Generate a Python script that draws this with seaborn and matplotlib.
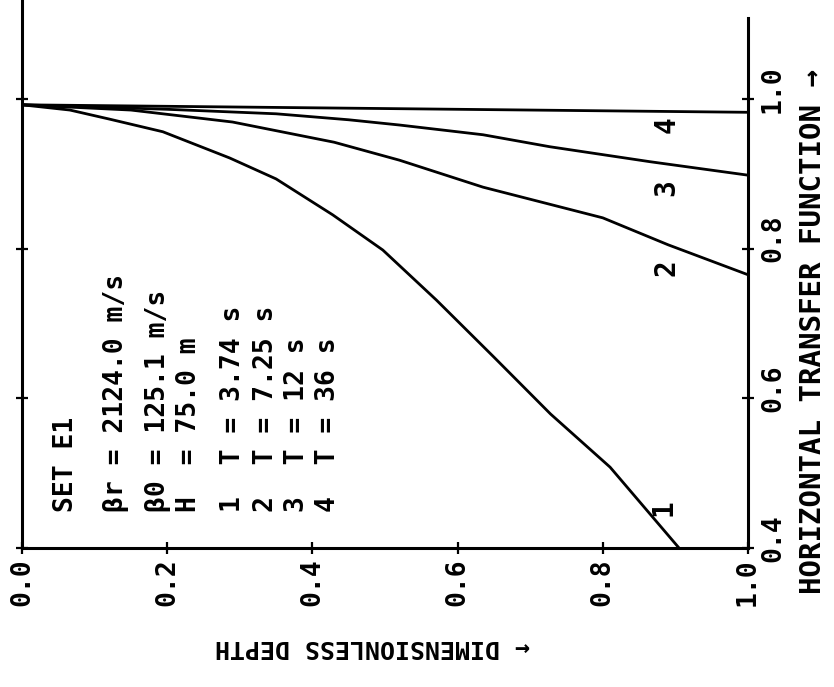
import matplotlib
matplotlib.use("Agg")
import matplotlib.pyplot as plt
import matplotlib.transforms as mtransforms
import numpy as np
import pandas as pd
import seaborn as sns

# Dimensionless depth (0 = surface) and horizontal transfer function per period
depth_1 = [0.0, 0.066, 0.12, 0.194, 0.286, 0.35, 0.428, 0.497, 0.571, 0.65, 0.728, 0.81, 0.905]
transfer_1 = [0.992, 0.985, 0.973, 0.956, 0.921, 0.893, 0.845, 0.798, 0.731, 0.655, 0.579, 0.508, 0.40]

depth_2 = [0.0, 0.15, 0.29, 0.43, 0.52, 0.635, 0.80, 0.89, 1.0]
transfer_2 = [0.992, 0.985, 0.969, 0.942, 0.918, 0.882, 0.841, 0.805, 0.765]

depth_3 = [0.0, 0.2, 0.35, 0.45, 0.52, 0.635, 0.727, 0.865, 1.0]
transfer_3 = [0.992, 0.986, 0.980, 0.972, 0.965, 0.952, 0.936, 0.916, 0.898]

depth_4 = [0.0, 0.5, 1.0]
transfer_4 = [0.992, 0.987, 0.982]

curve_ids = ["1", "2", "3", "4"]
depth_ticks = [0.0, 0.2, 0.4, 0.6, 0.8, 1.0]
transfer_ticks = [0.4, 0.6, 0.8, 1.0]

info_lines = [
    "SET E1",
    "\u03b2r = 2124.0 m/s",
    "\u03b20 = 125.1 m/s",
    "H  = 75.0 m",
    "1  T = 3.74 s",
    "2  T = 7.25 s",
    "3  T = 12 s",
    "4  T = 36 s",
]

frames = []
for cid, d, t in zip(curve_ids, [depth_1, depth_2, depth_3, depth_4],
                     [transfer_1, transfer_2, transfer_3, transfer_4]):
    frames.append(pd.DataFrame({"depth": d, "transfer": t, "curve": cid}))
data = pd.concat(frames, ignore_index=True)

sns.set_theme(style="white")
plt.rcParams["font.family"] = ["DejaVu Sans Mono", "DejaVu Sans"]
TEXT_KW = dict(color="black", fontweight="bold")

W, H = 834, 687
fig = plt.figure(figsize=(W / 100, H / 100), dpi=100)
ax = fig.add_axes([22 / W, (H - 548) / H, 726 / W, 548 / H])

sns.lineplot(data=data, x="depth", y="transfer", units="curve", estimator=None,
             sort=False, color="black", linewidth=2.0, ax=ax, legend=False)

ax.set_xlim(0.0, 1.0)
ax.set_ylim(0.4, 1.132)

for side in ["left", "right", "bottom"]:
    ax.spines[side].set_color("black")
    ax.spines[side].set_linewidth(2.2)
ax.spines["top"].set_visible(False)
ax.spines["right"].set_bounds(0.4, 1.108)

ax.set_xticks(depth_ticks)
ax.set_yticks(transfer_ticks)
ax.tick_params(axis="x", bottom=True, labelbottom=False, direction="inout",
               length=9, width=1.6, colors="black")
ax.tick_params(axis="y", left=True, right=True, labelleft=False, labelright=False,
               direction="inout", length=9, width=1.6, colors="black")
ax.set_xlabel("")
ax.set_ylabel("")

# tick labels, rotated to read along each axis
px = fig.dpi_scale_trans
below = mtransforms.blended_transform_factory(ax.transData, ax.transAxes) + \
    mtransforms.ScaledTranslation(0.0, -0.10, px)
for v in depth_ticks:
    ax.text(v, 0.0, f"{v:.1f}", transform=below, rotation=90, ha="center",
            va="top", fontsize=19, **TEXT_KW)

beside = mtransforms.blended_transform_factory(ax.transAxes, ax.transData) + \
    mtransforms.ScaledTranslation(0.12, 0.10, px)
for v in transfer_ticks:
    ax.text(1.0, v, f"{v:.1f}", transform=beside, rotation=90, ha="left",
            va="center", fontsize=19, **TEXT_KW)

# parameter block, written along the depth axis
info_x = [0.0606, 0.1295, 0.187, 0.230, 0.2906, 0.336, 0.379, 0.4215]
for xpos, line in zip(info_x, info_lines):
    ax.text(xpos, 0.448, line, rotation=90, ha="center", va="bottom",
            fontsize=19, **TEXT_KW)

# curve numbers near the right end of each curve
label_pos = [(0.883, 0.454), (0.888, 0.775), (0.888, 0.882), (0.888, 0.965)]
for cid, (xp, yp) in zip(curve_ids, label_pos):
    ax.text(xp, yp, cid, rotation=90, ha="center", va="center",
            fontsize=20, **TEXT_KW)

fig.text(813 / W, 1 - 331 / H, "HORIZONTAL TRANSFER FUNCTION \u2192", rotation=90,
         ha="center", va="center", fontsize=21, **TEXT_KW)
fig.text(373 / W, 1 - 647 / H, "\u2190 DIMENSIONLESS DEPTH", rotation=180,
         ha="center", va="center", fontsize=18, **TEXT_KW)

fig.savefig("out.png", dpi=100, facecolor="white")
